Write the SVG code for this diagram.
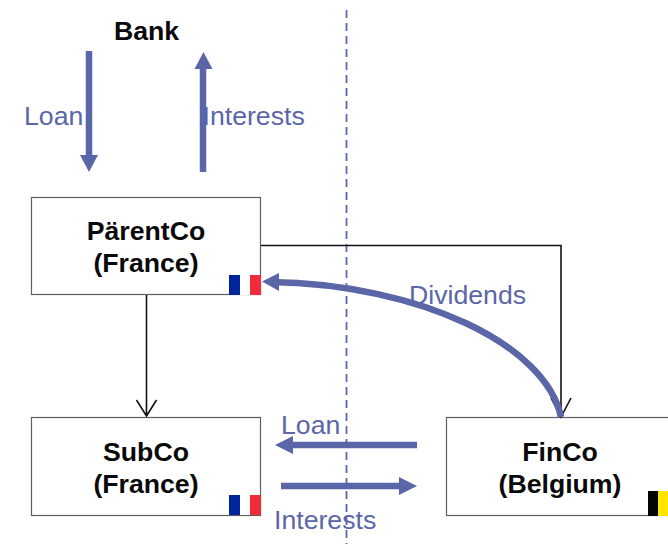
<svg xmlns="http://www.w3.org/2000/svg" width="668" height="544" viewBox="0 0 668 544">
<style>
text{font-family:"Liberation Sans",Arial,sans-serif}
.n{font-size:26.670px;font-weight:bold;fill:#0a0a0a;text-anchor:middle}
.l{font-size:26.670px;fill:#5b66a8}
.box{fill:#fff;stroke:#5f5f5f;stroke-width:1.2}
.t{fill:none;stroke:#111;stroke-width:1.600}
.b{fill:none;stroke:#5b66a8;stroke-width:6.500}
.h{fill:#5b66a8}
</style>
<rect width="668" height="544" fill="#fff"/>
<g id="border"><path d="M346.500 10V544" fill="none" stroke="#5b66a8" stroke-width="1.800" stroke-dasharray="8 5"/></g>
<g id="parentco">
<rect class="box" x="31.500" y="197.500" width="229" height="97"/>
<text class="n" x="146" y="240">PärentCo</text>
<text class="n" x="146" y="272">(France)</text>
<rect x="229" y="275" width="11" height="20" fill="#00269a"/><rect x="240" y="275" width="10" height="20" fill="#fff"/><rect x="250" y="275" width="11" height="20" fill="#ef2b3c"/>
</g>
<g id="subco">
<rect class="box" x="31.500" y="417.500" width="229" height="98"/>
<text class="n" x="146" y="461">SubCo</text>
<text class="n" x="146" y="493">(France)</text>
<rect x="229" y="495" width="11" height="20" fill="#00269a"/><rect x="240" y="495" width="10" height="20" fill="#fff"/><rect x="250" y="495" width="11" height="20" fill="#ef2b3c"/>
</g>
<g id="finco">
<rect class="box" x="446.500" y="417.500" width="230" height="98"/>
<text class="n" x="560" y="461">FinCo</text>
<text class="n" x="560" y="493">(Belgium)</text>
<rect x="648" y="491" width="10" height="25" fill="#050505"/><rect x="658" y="491" width="10" height="25" fill="#ffe600"/>
</g>
<g id="bank"><text class="n" x="146.500" y="40">Bank</text></g>
<g id="connectors">
<path class="t" d="M146.500 295V416M136.500 400L146.500 416L156.500 400"/>
<path class="t" d="M261 245.500H561V417M551 398L561 417L571 398"/>
<path class="b" d="M89 51V156"/><path class="h" d="M80 155H98L89 172Z"/>
<path class="b" d="M203 172V68"/><path class="h" d="M194.500 69H212.500L203.500 52Z"/>
<path class="b" d="M561 417C546 345 420 284 270 282"/><path class="h" d="M262 281.500L279 273V291Z"/>
<path class="b" d="M417 445H290"/><path class="h" d="M275 445L293 436V454Z"/>
<path class="b" d="M281 486H402"/><path class="h" d="M417 486L399 477V495Z"/>
</g>
<g id="labels">
<text class="l" x="24" y="125">Loan</text>
<text class="l" x="202.500" y="125">Interests</text>
<text class="l" x="409" y="304">Dividends</text>
<text class="l" x="281" y="434">Loan</text>
<text class="l" x="274" y="529">Interests</text>
</g>
</svg>
